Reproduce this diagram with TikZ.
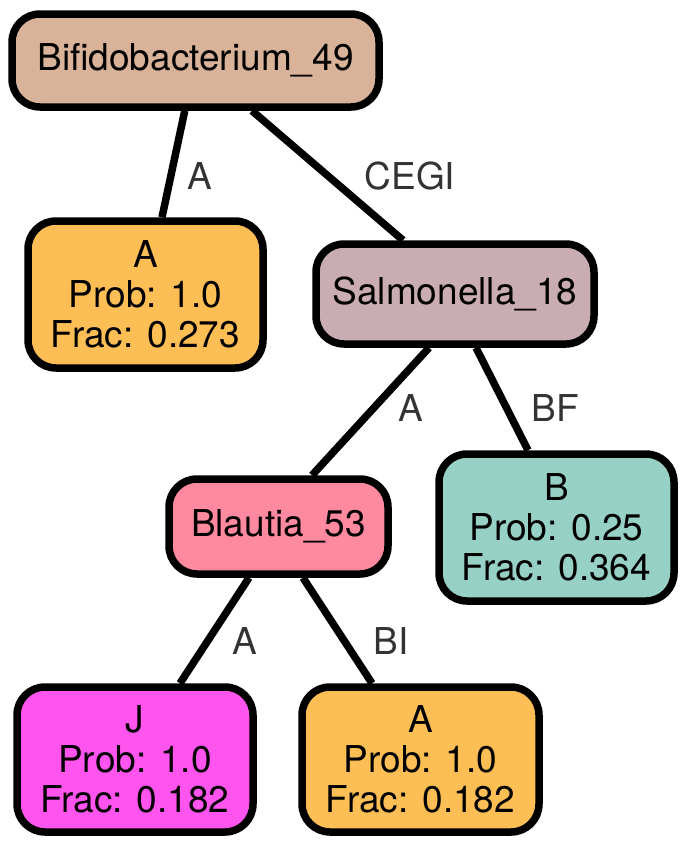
\documentclass[tikz,border=0pt]{standalone}
\usepackage{fontspec}
\setmainfont{TeX Gyre Heros}
\definecolor{cbif}{RGB}{217,179,153}
\definecolor{corange}{RGB}{253,190,85}
\definecolor{csalm}{RGB}{201,173,178}
\definecolor{cblau}{RGB}{255,138,159}
\definecolor{cteal}{RGB}{151,208,197}
\definecolor{cmag}{RGB}{255,85,238}
\definecolor{labelgray}{RGB}{51,51,51}
\begin{document}
\begin{tikzpicture}[x=1pt,y=-1pt,
  box/.style={draw=black, line width=7.5pt, rounded corners=28pt, inner sep=0pt, align=center,
    font=\fontsize{37}{40}\selectfont},
  edge/.style={line width=7.5pt, draw=black},
  elabel/.style={text=labelgray, inner sep=0pt, font=\fontsize{37}{40}\selectfont}]
\useasboundingbox (0,0) rectangle (686,846);
\node[box, fill=cbif, minimum width=367pt, minimum height=93pt] (bif) at (195.5,60.5) {Bifidobacterium\_49};
\node[box, fill=corange, minimum width=235pt, minimum height=147pt] (a1) at (145.5,294.5) {A\\Prob: 1.0\\Frac: 0.273};
\node[box, fill=csalm, minimum width=278pt, minimum height=100pt] (salm) at (455,294) {Salmonella\_18};
\node[box, fill=cblau, minimum width=219pt, minimum height=95pt] (blau) at (278.5,526.5) {Blautia\_53};
\node[box, fill=cteal, minimum width=235pt, minimum height=147pt] (b) at (556.5,527.5) {B\\Prob: 0.25\\Frac: 0.364};
\node[box, fill=cmag, minimum width=236pt, minimum height=145pt] (j) at (135,759.5) {J\\Prob: 1.0\\Frac: 0.182};
\node[box, fill=corange, minimum width=237pt, minimum height=145pt] (a2) at (420.5,759.5) {A\\Prob: 1.0\\Frac: 0.182};

\draw[edge] (bif) -- (a1);
\draw[edge] ([xshift=56.5pt]bif.south) -- ([xshift=-52pt]salm.north);
\draw[edge] ([xshift=-26pt]salm.south) -- ([xshift=33.5pt]blau.north);
\draw[edge] ([xshift=21pt]salm.south) -- ([xshift=-28.5pt]b.north);
\draw[edge] ([xshift=-29.5pt]blau.south) -- ([xshift=45pt]j.north);
\draw[edge] ([xshift=24.5pt]blau.south) -- ([xshift=-48.5pt]a2.north);

\node[elabel] (l1) at (200,176) {A};
\node[elabel] (l2) at (410,176) {CEGI};
\node[elabel] (l3) at (411,408) {A};
\node[elabel] (l4) at (555,408) {BF};
\node[elabel] (l5) at (245,641) {A};
\node[elabel] (l6) at (391,641) {BI};
\end{tikzpicture}
\end{document}
